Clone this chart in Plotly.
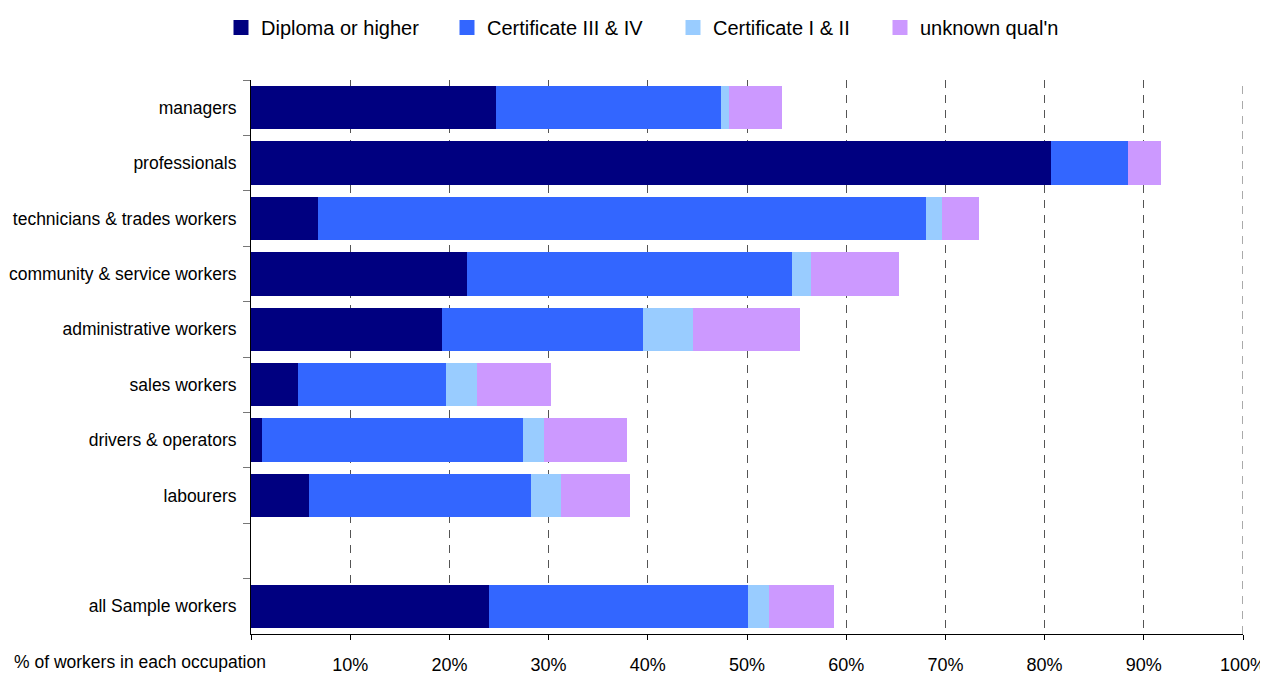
import plotly.graph_objects as go

categories = ["managers", "professionals", "technicians & trades workers",
              "community & service workers", "administrative workers",
              "sales workers", "drivers & operators", "labourers", " ",
              "all Sample workers"]

diploma = [24.7, 80.6, 6.75, 21.8, 19.25, 4.7, 1.1, 5.85, None, 24.0]
cert34 = [22.7, 7.8, 61.25, 32.7, 20.25, 15.0, 26.3, 22.35, None, 26.1]
cert12 = [0.8, 0.0, 1.7, 2.0, 5.1, 3.1, 2.1, 3.05, None, 2.1]
unknown = [5.3, 3.3, 3.7, 8.8, 10.7, 7.4, 8.4, 6.95, None, 6.6]

series_names = ["Diploma or higher", "Certificate III & IV", "Certificate I & II", "unknown qual'n"]
series_values = [diploma, cert34, cert12, unknown]
colors = ["#000080", "#3366FF", "#99CCFF", "#CC99FF"]
legend_ids = ["legend", "legend", "legend", "legend2"]

tick_vals = [0, 10, 20, 30, 40, 50, 60, 70, 80, 90, 100]
tick_text = [""] + [f"{v}%" for v in tick_vals[1:]]

font = "Liberation Sans, Arial, sans-serif"

fig = go.Figure()
for name, vals, col in zip(series_names, series_values, colors):
    fig.add_trace(go.Bar(y=categories, x=vals, name=name, orientation="h",
                         legendgroup=name, showlegend=False,
                         marker=dict(color=col, line=dict(width=0))))
# legend entries with larger square swatches
for name, col, lid in zip(series_names, colors, legend_ids):
    fig.add_trace(go.Scatter(x=[None], y=[None], mode="markers", name=name,
                             legendgroup=name, showlegend=True, legend=lid,
                             marker=dict(symbol="square", size=15, color=col)))

legend_common = dict(orientation="h", xanchor="left",
                     y=1 + 72 / 554, yanchor="top", yref="paper",
                     font=dict(size=20), traceorder="normal",
                     entrywidth=181, entrywidthmode="pixels", itemwidth=30,
                     itemsizing="trace")

# page body has an 8px margin, so the figure is sized/offset to compensate
fig.update_layout(
    barmode="stack",
    bargap=0.22,
    width=1260, height=665,
    margin=dict(l=243, r=25, t=72, b=39, autoexpand=False),
    paper_bgcolor="white", plot_bgcolor="white",
    font=dict(family=font, size=18, color="black"),
    legend=dict(x=(221 - 251) / 992, **legend_common),
    legend2=dict(x=(880 - 251) / 992, **legend_common),
    showlegend=True,
    xaxis=dict(range=[0, 100], tickvals=tick_vals, ticktext=tick_text,
               showgrid=True, gridcolor="#555555", griddash="8px,7px", gridwidth=1,
               showline=True, linecolor="black", linewidth=1,
               ticks="outside", ticklen=5, tickcolor="black",
               ticklabelstandoff=9, tickfont=dict(size=18), zeroline=False,
               automargin=False),
    yaxis=dict(autorange="reversed", type="category", showgrid=False,
               showline=True, linecolor="black", linewidth=1,
               ticks="outside", ticklen=7, tickcolor="#777777", tickson="boundaries",
               ticklabelstandoff=10, tickfont=dict(size=17.5), automargin=False),
)
fig.add_shape(type="line", xref="x", yref="paper", x0=100, x1=100, y0=0, y1=1,
              line=dict(color="#555555", width=1, dash="8px,7px"), layer="below")
fig.add_annotation(text="% of workers in each occupation", xref="paper", yref="paper",
                   x=(12 - 251) / 992, xanchor="left", y=0, yshift=-28, yanchor="middle",
                   showarrow=False, font=dict(size=17.5, family=font))
fig.write_html("out.html")
